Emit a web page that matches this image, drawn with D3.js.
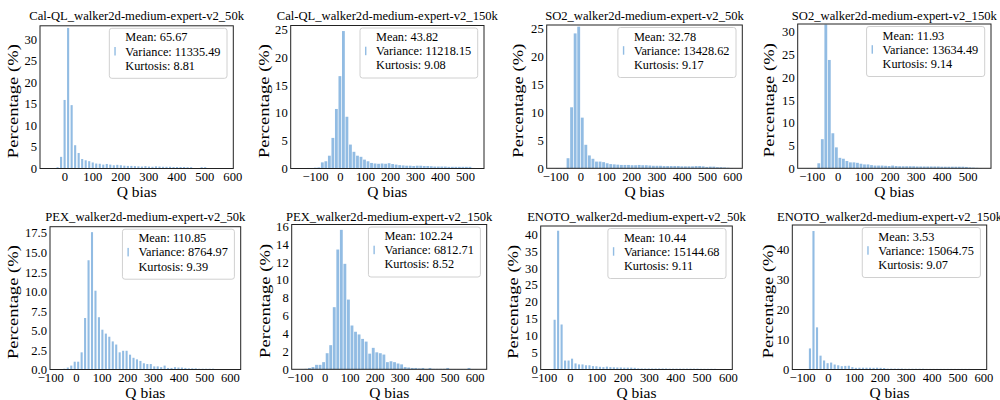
<!DOCTYPE html>
<html><head><meta charset="utf-8">
<script src="https://cdn.jsdelivr.net/npm/d3@7"></script>
<style>
body{margin:0;background:#fff}
svg{display:block}
text{font-family:"Liberation Serif","Times New Roman",serif;fill:#000}
</style>
</head><body>
<svg id="c" width="1000" height="400"></svg>
<script>
// ---------------- data ----------------
const titles = [
  "Cal-QL_walker2d-medium-expert-v2_50k",
  "Cal-QL_walker2d-medium-expert-v2_150k",
  "SO2_walker2d-medium-expert-v2_50k",
  "SO2_walker2d-medium-expert-v2_150k",
  "PEX_walker2d-medium-expert-v2_50k",
  "PEX_walker2d-medium-expert-v2_150k",
  "ENOTO_walker2d-medium-expert-v2_50k",
  "ENOTO_walker2d-medium-expert-v2_150k"
];
const means = ["65.67","43.82","32.78","11.93","110.85","102.24","10.44","3.53"];
const variances = ["11335.49","11218.15","13428.62","13634.49","8764.97","6812.71","15144.68","15064.75"];
const kurtoses = ["8.81","9.08","9.17","9.14","9.39","8.52","9.11","9.07"];

// histogram range (min, max of Q bias) for the 50 bins of each panel
const binLows  = [-55.4, -161.9, -98.5, -120.0, -65.3, -96.6, -78.3, -103.8];
const binHighs = [572.2,  540.8, 604.4,  555.8, 608.3, 612.6, 583.9,  578.5];

// percentage per bin
const pctCalQL50 = [0,0,0.3,2.7,15.9,32.6,14.7,5.4,3.6,2.2,
  1.9,1.7,1.4,1.15,1.1,0.9,1.05,0.9,0.75,0.85,
  0.75,0.65,0.6,0.6,0.55,0.5,0.45,0.55,0.45,0.4,
  0.5,0.45,0.4,0.4,0.4,0.35,0.35,0.35,0.35,0.3,
  0.3,0.1,0.1,0.3,0.3,0.1,0.05,0,0,0.05];
const pctCalQL150 = [0.05,0.05,0.1,0.1,0.15,0.2,1.1,1.3,2.3,5.5,
  10.7,16.6,24.7,9.3,4.3,3.0,2.3,2.1,1.6,1.3,
  1.0,0.9,0.85,0.9,0.85,0.95,0.8,0.7,0.6,0.55,
  0.5,0.5,0.45,0.5,0.5,0.45,0.45,0.4,0.35,0.35,
  0.35,0.35,0.3,0.3,0.3,0.3,0.3,0.3,0.3,0.1];
const pctSO250 = [0.05,0.05,0.05,1.8,10.9,24.1,25.3,9.05,4.2,2.3,
  1.7,1.2,1.2,1.1,0.9,0.75,0.7,0.65,0.6,0.6,
  0.6,0.55,0.55,0.6,0.55,0.55,0.5,0.45,0.45,0.45,
  0.4,0.4,0.4,0.4,0.4,0.35,0.35,0.35,0.35,0.4,
  0.4,0.35,0.25,0.3,0.3,0.2,0.2,0.15,0.1,0.05];
const pctSO2150 = [0.05,0.05,0.05,1.1,6.4,31.6,23.8,7.7,4.6,2.3,
  2.1,1.6,1.3,1.3,1.2,1.0,0.85,0.85,0.7,0.6,
  0.6,0.6,0.55,0.5,0.6,0.5,0.45,0.45,0.45,0.45,
  0.45,0.4,0.4,0.4,0.4,0.4,0.4,0.4,0.35,0.35,
  0.35,0.35,0.35,0.35,0.35,0.3,0.2,0.15,0.1,0.05];
const pctPEX50 = [0.05,0.1,0.25,0.5,1.0,1.0,2.2,6.6,14.0,17.6,
  10.1,6.7,5.1,4.6,4.2,3.6,3.2,2.2,2.4,2.4,
  1.9,1.5,1.3,1.1,0.8,0.7,0.7,0.4,0.4,0.3,
  0.5,0.2,0.2,0.3,0.25,0.25,0.2,0.15,0.15,0.15,
  0.1,0.1,0.1,0.1,0.1,0.05,0.05,0.05,0.03,0.03];
const pctPEX150 = [0.03,0.05,0.15,0.25,0.5,0.5,0.8,1.8,2.7,6.95,
  13.4,15.6,11.8,7.8,4.9,4.2,3.9,3.4,3.1,1.75,
  2.4,1.9,1.8,1.65,0.8,0.9,0.8,0.65,0.55,0.25,
  0.2,0.15,0.15,0.1,0.15,0.05,0.15,0.05,0.05,0.05,
  0.05,0.15,0.03,0.03,0.03,0.03,0.03,0.15,0.02,0.02];
const pctENOTO50 = [0.05,14.7,41.0,13.3,2.65,2.65,3.2,1.8,1.5,1.5,
  1.25,1.25,1.0,0.95,0.8,0.7,0.85,0.7,0.65,0.6,
  0.6,0.55,0.55,0.55,0.5,0.35,0.3,0.3,0.3,0.3,
  0.3,0.3,0.3,0.3,0.25,0.25,0.25,0.25,0.25,0.25,
  0.25,0.25,0.25,0.2,0.2,0.2,0.2,0.2,0.15,0.1];
const pctENOTO150 = [0.05,0.05,7.0,46.0,14.0,4.6,3.0,2.1,2.3,1.65,
  1.4,1.1,1.2,1.25,0.8,0.55,0.6,0.6,0.6,0.6,
  0.55,0.6,0.55,0.5,0.3,0.3,0.3,0.3,0.3,0.25,
  0.25,0.25,0.25,0.25,0.25,0.2,0.2,0.2,0.2,0.2,
  0.2,0.2,0.2,0.2,0.2,0.2,0.2,0.2,0.1,0.05];
const series = [pctCalQL50,pctCalQL150,pctSO250,pctSO2150,pctPEX50,pctPEX150,pctENOTO50,pctENOTO150];

// axis limits and ticks
const xDomains = [[-86.8,603.6],[-197,576],[-133.6,639.5],[-153.8,589.6],[-101,642],[-132,648],[-111.4,617],[-137.8,612.7]];
const yMaxes = [33.1, 25.7, 25.6, 31.7, 18.3, 16.2, 42.4, 48];
const xTicksA = [0,100,200,300,400,500,600];
const xTicksB = [-100,0,100,200,300,400,500];
const xTicksC = [-100,0,100,200,300,400,500,600];
const xTickSets = [xTicksA, xTicksB, xTicksC, xTicksB, xTicksC, xTicksC, xTicksC, xTicksC];
const yTickSets = [
  [0,5,10,15,20,25,30],
  [0,5,10,15,20,25],
  [0,5,10,15,20,25],
  [0,5,10,15,20,25,30],
  [0,2.5,5,7.5,10,12.5,15,17.5],
  [0,2,4,6,8,10,12,14,16],
  [0,5,10,15,20,25,30,35,40],
  [0,10,20,30,40]
];
const yTickFormats = ["d","d","d","d",".1f","d","d","d"];
const xLabel = "Q bias";
const yLabel = "Percentage (%)";

// ---------------- layout (pixels) ----------------
const layout = [
  {l:40,    r:233.3, t:25.8, b:168.5, ylx:18,  tb:19.5,  xb:196.5, narrow:true},
  {l:290.7, r:484,   t:25.5, b:168.5, ylx:269, tb:19.5,  xb:196.5, narrow:false},
  {l:546.7, r:742.3, t:25,   b:168.3, ylx:522.5, tb:19.5, xb:196.5, narrow:false},
  {l:797.7, r:991,   t:24,   b:168.3, ylx:774, tb:19.5,  xb:196.5, narrow:false},
  {l:50,    r:240.7, t:226.7, b:369.5, ylx:18,  tb:221,  xb:397.5, narrow:true},
  {l:291.7, r:486.7, t:224.5, b:369.3, ylx:269.5, tb:221, xb:397.5, narrow:false},
  {l:540.7, r:732.3, t:226,  b:369.5, ylx:518, tb:221,   xb:397.5, narrow:true},
  {l:792.3, r:986.7, t:225,  b:369.5, ylx:772.5, tb:221, xb:397.5, narrow:true}
];
const barColor = "#92bce3";
const fontFam = '"Liberation Serif","Times New Roman",serif';

const svg = d3.select("#c");

for (let i = 0; i < 8; i++) {
  const L = layout[i];
  const vals = series[i];
  const n = vals.length;
  const bw = (binHighs[i] - binLows[i]) / n;
  const x = d3.scaleLinear().domain(xDomains[i]).range([L.l, L.r]);
  const y = d3.scaleLinear().domain([0, yMaxes[i]]).range([L.b, L.t]);
  const g = svg.append("g");

  // bars
  const barW = k => {
    const w = x(binLows[i] + (k+1)*bw) - x(binLows[i] + k*bw);
    return L.narrow ? w*0.6 : w - 0.7;
  };
  g.append("g").selectAll("rect").data(vals).join("rect")
    .attr("x", (d,k) => {
      const x0 = x(binLows[i] + k*bw), x1 = x(binLows[i] + (k+1)*bw);
      return x0 + ((x1 - x0) - barW(k))/2;
    })
    .attr("width", (d,k) => barW(k))
    .attr("y", d => y(d))
    .attr("height", d => L.b - y(d))
    .attr("fill", barColor);

  // x axis
  const gx = g.append("g").attr("transform", `translate(0,${L.b})`)
    .call(d3.axisBottom(x).tickValues(xTickSets[i]).tickSize(0).tickPadding(3.6).tickFormat(d3.format("d")));
  gx.select(".domain").remove();
  gx.attr("font-family", fontFam).attr("font-size", 12.6);
  gx.selectAll("text").attr("fill", "#000");

  // y axis
  const gy = g.append("g").attr("transform", `translate(${L.l},0)`)
    .call(d3.axisLeft(y).tickValues(yTickSets[i]).tickSize(0).tickPadding(3).tickFormat(d3.format(yTickFormats[i])));
  gy.select(".domain").remove();
  gy.attr("font-family", fontFam).attr("font-size", 12.6);
  gy.selectAll("text").attr("fill", "#000");

  // frame
  g.append("rect").attr("x", L.l).attr("y", L.t)
    .attr("width", L.r - L.l).attr("height", L.b - L.t)
    .attr("fill", "none").attr("stroke", "#222").attr("stroke-width", 1);

  // title
  g.append("text").attr("x", (L.l + L.r)/2).attr("y", L.tb)
    .attr("text-anchor", "middle").attr("font-size", 12.6).text(titles[i]);

  // x label
  g.append("text").attr("x", (L.l + L.r)/2).attr("y", L.xb)
    .attr("text-anchor", "middle").attr("font-size", 15.5).text(xLabel);

  // y label
  const cy = (L.t + L.b)/2 + 4;
  g.append("text").attr("transform", `translate(${L.ylx},${cy}) rotate(-90)`)
    .attr("text-anchor", "middle").attr("font-size", 15.5)
    .attr("textLength", 114).attr("lengthAdjust", "spacingAndGlyphs")
    .text(yLabel);

  // legend
  const lg = g.append("g");
  const lines = [`Mean: ${means[i]}`, `Variance: ${variances[i]}`, `Kurtosis: ${kurtoses[i]}`];
  const box = lg.append("rect");
  const txt = lg.selectAll("text").data(lines).join("text")
    .attr("font-size", 12.3).text(d => d);
  let maxW = 0;
  txt.each(function(){ maxW = Math.max(maxW, this.getComputedTextLength()); });
  const bwBox = 16 + maxW + 6.5, bhBox = 50;
  const bx = L.r - 6.3 - bwBox, by = L.t + 2.5;
  box.attr("x", bx).attr("y", by).attr("width", bwBox).attr("height", bhBox)
    .attr("rx", 2.5).attr("fill", "#fff").attr("fill-opacity", 0.8)
    .attr("stroke", "#d0d0d0").attr("stroke-width", 1);
  txt.attr("x", bx + 16).attr("y", (d,k) => by + 13 + k*14.2);
  lg.append("rect").attr("x", bx + 5).attr("y", by + 13 + 14.2 - 8.5)
    .attr("width", 1.4).attr("height", 8.5).attr("fill", barColor);
}
</script>
</body></html>
